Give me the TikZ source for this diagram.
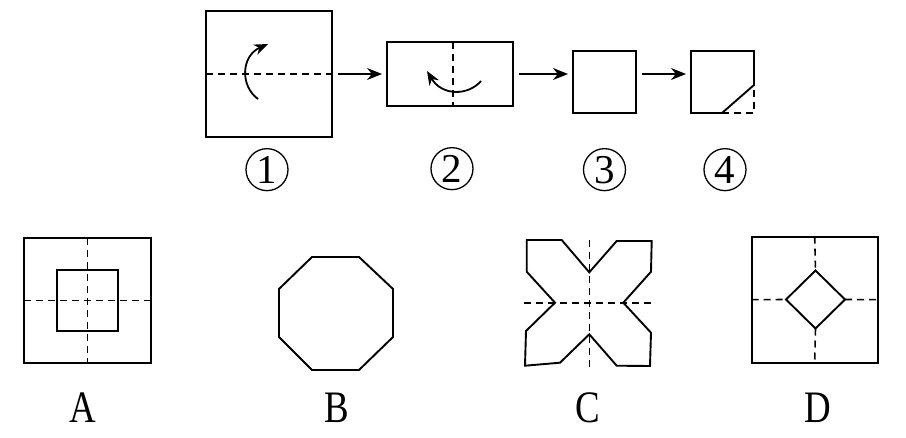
\documentclass[tikz,border=0pt]{standalone}
\usepackage{fontspec}
\setmainfont{Liberation Serif}
\usetikzlibrary{positioning,arrows.meta,shapes.geometric}

\newcommand{\narrow}[1]{\scalebox{0.82}[1]{#1}}

\tikzset{
  paper/.style={draw, line width=1.9pt, inner sep=0pt, outer sep=0pt},
  crease/.style={line width=1.6pt, dash pattern=on 7pt off 5pt},
  edge/.style={line width=1.9pt, line join=miter},
  flow/.style={-{Stealth[length=15pt,width=12pt]}, line width=1.8pt, shorten <=6pt, shorten >=5pt},
  turn/.style={-{Stealth[length=14pt,width=11pt]}, line width=1.8pt},
  tag/.style={circle, draw, line width=1.3pt, minimum size=42pt, inner sep=0pt, font=\fontsize{41}{41}\selectfont},
  choice/.style={font=\fontsize{45}{45}\selectfont, inner sep=0pt, anchor=base}
}

\begin{document}
\begin{tikzpicture}[x=1pt, y=-1pt]
  \useasboundingbox (0,0) rectangle (906,437);

  % folding steps
  \node[paper, minimum width=126pt, minimum height=126pt] (s1) at (269,74) {};
  \node[paper, minimum width=126pt, minimum height=64pt] (s2) at (450,74) {};
  \node[paper, minimum width=63pt, minimum height=62pt] (s3) at (604.5,82) {};
  \node[inner sep=0pt, outer sep=0pt, minimum width=63pt, minimum height=62pt] (s4) at (722.5,82) {};

  \draw[crease] (s1.west) -- (s1.east);
  \draw[crease] ([xshift=3pt]s2.north) -- ([xshift=3pt]s2.south);
  \draw[turn] (258,99) .. controls (240,86) and (241,56) .. (268,44);
  \draw[turn] (481,81) .. controls (468,96) and (442,96) .. (427,71);

  % corner cut off
  \coordinate (c4) at ([xshift=-32pt]s4.south east);
  \coordinate (e4) at ([yshift=28pt]s4.south east);
  \draw[edge] (c4) -- (s4.south west) -- (s4.north west) -- (s4.north east) -- (e4) -- cycle;
  \draw[crease] (c4) -- (s4.south east) -- (e4);

  \draw[flow] (s1.east) -- (s2.west);
  \draw[flow] (s2.east) -- (s3.west |- s2.east);
  \draw[flow] (s3.east |- s2.east) -- (s4.west |- s2.east);

  \node[tag, below=11pt of s1, xshift=-2pt] (n1) {1};
  \node[tag, below=41pt of s2, xshift=2pt] (n2) {2};
  \node[tag, below=35pt of s3] (n3) {3};
  \node[tag, below=35pt of s4, xshift=2.5pt] (n4) {4};

  % answer A
  \node[paper, minimum width=127pt, minimum height=125pt] (a) at (87.5,300.5) {};
  \node[paper, minimum size=61pt] (ain) at (a) {};
  \draw[crease] (a.north) -- (a.south);
  \draw[crease] (a.west) -- (a.east);

  % answer B
  \draw[edge] (312,257) -- (359,257) -- (393,289) -- (393,337) -- (359,370)
    -- (312,370) -- (279,337) -- (279,289) -- cycle;

  % answer C
  \draw[edge] (526.7,240) -- (561.7,240) -- (589.3,272.3) -- (616.7,241) -- (651.7,241)
    -- (651,271.7) -- (623.3,302.7) -- (651,332.7) -- (650,366) -- (616.7,365.7)
    -- (589.3,334.3) -- (560,362.7) -- (525,365.7) -- (526,331) -- (555,302.7)
    -- (526.7,271.7) -- cycle;
  \draw[crease] (589.3,240) -- (589.3,367);
  \draw[crease] (524,302.7) -- (653,302.7);

  % answer D
  \node[paper, minimum width=126pt, minimum height=126pt] (d) at (814.7,299.7) {};
  \node[paper, diamond, minimum width=59pt, minimum height=58pt] (dd) at (815.5,299.5) {};
  \draw[crease] (d.north) -- (dd.north);
  \draw[crease] (dd.south) -- (d.south);
  \draw[crease] (d.west) -- (dd.west);
  \draw[crease] (dd.east) -- (d.east);

  \node[choice] (la) at (83,422) {\narrow{A}};
  \node[choice] (lb) at (337,422) {\narrow{B}};
  \node[choice] (lc) at (588,422) {\narrow{C}};
  \node[choice] (ld) at (818,422) {\narrow{D}};
\end{tikzpicture}
\end{document}
